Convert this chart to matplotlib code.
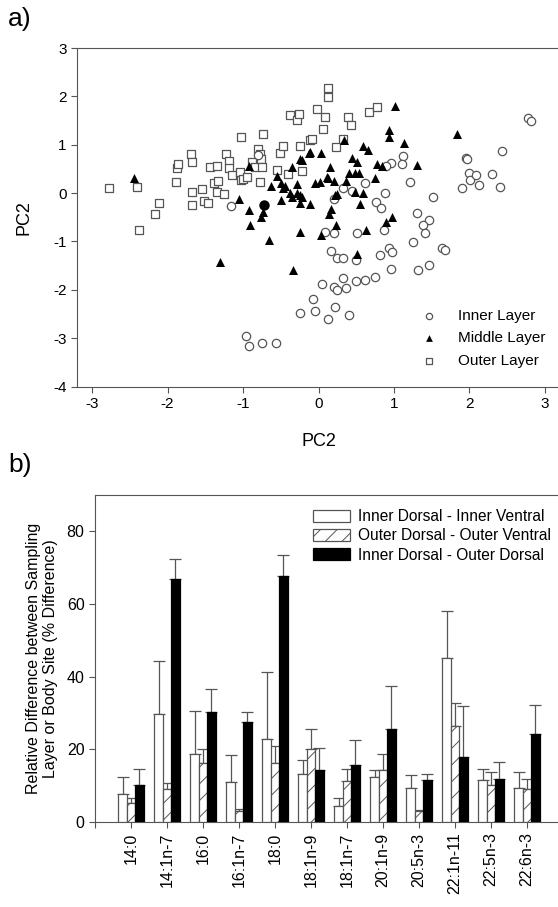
import numpy as np
import matplotlib
matplotlib.use('Agg')
import matplotlib.pyplot as plt

plt.rcParams['font.family'] = ['Liberation Sans', 'DejaVu Sans']
plt.rcParams['axes.unicode_minus'] = False
plt.rcParams['hatch.linewidth'] = 0.7
plt.rcParams['hatch.color'] = '#444444'

# --- panel a) PCA scores ---
inner_x = [-1.16, -0.80, -0.25, -0.07, -0.96, -0.92, -0.75, -0.56,
           2.77, 2.82, 2.43, 1.96, 1.97, 1.99, 2.01, 2.09, 2.13, 1.90, 2.30, 2.41,
           1.12, 1.10, 0.96, 0.89, 1.21, 1.52, 0.62, 0.33, 0.44, 0.88, 0.76, 0.83, 0.20, 1.30, 1.47,
           1.39, 1.41, 1.25, 1.63, 1.68, 0.87, 0.09, 0.20, 0.51, 0.17, 0.25, 0.33, 0.50,
           0.82, 0.93, 0.97, 0.96, 1.32, 1.46, 0.04, 0.20, 0.25, 0.37, 0.33, 0.50, 0.61, 0.75,
           -0.04, 0.12, 0.22, 0.41]
inner_y = [-0.27, 0.79, -2.48, -2.19, -2.96, -3.16, -3.11, -3.11,
           1.55, 1.50, 0.88, 0.73, 0.70, 0.42, 0.28, 0.37, 0.17, 0.10, 0.39, 0.12,
           0.77, 0.60, 0.63, 0.56, 0.22, -0.09, 0.20, 0.10, 0.05, 0.01, -0.18, -0.30, -0.12, -0.41, -0.56,
           -0.66, -0.82, -1.01, -1.14, -1.18, -0.77, -0.80, -0.83, -0.83, -1.20, -1.35, -1.35, -1.39,
           -1.28, -1.14, -1.21, -1.58, -1.59, -1.49, -1.88, -1.95, -2.01, -1.97, -1.76, -1.82, -1.80, -1.73,
           -2.44, -2.61, -2.35, -2.52]

middle_x = [-2.44, -1.05, -0.92, -0.92, -0.76, -0.74, -0.63, -0.55, -0.50, -0.47, -0.45, -0.38,
            -0.35, -0.29, -0.28, -0.24, -0.24, -0.50, -0.35, -0.24, -0.11, -0.91, -0.65, -1.31,
            -0.34, -0.24, 1.01, 0.93, 0.94, 1.13, 1.84, 0.34, -0.12, 0.03, 0.59, 0.66, 0.44, 0.51,
            0.15, 0.77, 0.84, 1.30, -0.22, 0.41, 0.48, 0.54, 0.12, 0.20, -0.05, 0.02, 0.36, 0.75,
            0.48, 0.59, 0.24, -0.22, -0.11, 0.55, 0.16, 0.14, 0.97, 0.23, 0.03, 0.63, 0.51, 0.89,
            0.22, 0.11]
middle_y = [0.32, -0.12, 0.56, -0.34, -0.49, -0.39, 0.14, 0.35, 0.20, 0.11, 0.15, 0.01,
            -0.08, 0.18, 0.01, -0.04, -0.21, -0.14, 0.54, 0.70, 0.85, -0.66, -0.97, -1.42,
            -1.59, -0.80, 1.81, 1.30, 1.16, 1.04, 1.23, 1.10, 0.83, 0.83, 0.97, 0.89, 0.73, 0.65,
            0.54, 0.61, 0.56, 0.58, 0.68, 0.41, 0.42, 0.41, 0.32, 0.25, 0.20, 0.23, 0.25, 0.32,
            0.03, 0.01, -0.02, -0.08, -0.23, -0.23, -0.33, -0.44, -0.49, -0.67, -0.87, -0.77, -1.26, -0.59,
            -0.04, 0.34]

outer_x = [-2.78, -2.41, -2.11, -2.17, -2.38, -1.89, -1.88, -1.86, -1.69, -1.67, -1.68, -1.55,
           -1.67, -1.52, -1.47, -1.44, -1.35, -1.38, -1.33, -1.35, -1.25, -1.23, -1.19, -1.18,
           -1.14, -1.03, -1.04, -1.03, -1.00, -0.95, -0.88, -0.84, -0.80, -0.78, -0.76, -0.75,
           -0.73, -0.77, -0.55, -0.51, -0.47, -0.40, -0.38, -0.28, -0.26, -0.25, -0.22, -0.11,
           0.13, 0.12, -0.02, 0.08, 0.06, -0.08, 0.39, 0.43, 0.67, 0.77, 0.23, 0.33]
outer_y = [0.10, 0.13, -0.20, -0.44, -0.77, 0.22, 0.51, 0.61, 0.80, 0.65, 0.03, 0.08,
           -0.25, -0.17, -0.21, 0.54, 0.57, 0.20, 0.25, 0.03, -0.02, 0.80, 0.66, 0.51,
           0.37, 1.16, 0.44, 0.27, 0.29, 0.34, 0.65, 0.54, 0.92, 0.80, 0.70, 0.54,
           1.23, 0.22, 0.48, 0.82, 0.98, 0.39, 1.61, 1.51, 1.63, 0.97, 0.46, 1.10,
           2.18, 1.99, 1.73, 1.57, 1.33, 1.12, 1.57, 1.41, 1.67, 1.77, 0.95, 1.12]

# jeden pelny punkt (czarne kolko)
odd_x = [-0.72]
odd_y = [-0.25]

# --- panel b) fatty acid differences ---
kwasy = ['14:0', '14:1n-7', '16:0', '16:1n-7', '18:0', '18:1n-9', '18:1n-7',
         '20:1n-9', '20:5n-3', '22:1n-11', '22:5n-3', '22:6n-3']
in_in = [7.6, 29.7, 18.8, 11.0, 22.8, 13.1, 4.5, 12.3, 9.3, 45.2, 11.6, 9.3]
in_in_top = [12.5, 44.2, 30.6, 18.5, 41.3, 17.1, 6.5, 14.3, 12.8, 58.2, 14.5, 13.7]
out_out = [5.3, 9.0, 16.2, 3.0, 16.2, 20.0, 11.3, 14.3, 3.0, 26.3, 10.2, 9.0]
out_out_top = [6.5, 10.8, 20.0, 3.5, 20.8, 25.6, 14.6, 18.8, 3.4, 32.7, 13.7, 11.7]
in_out = [10.2, 67.0, 30.3, 27.4, 67.6, 14.3, 15.7, 25.6, 11.6, 18.0, 11.9, 24.3]
in_out_top = [14.6, 72.5, 36.7, 30.4, 73.4, 20.3, 22.6, 37.5, 13.3, 31.8, 16.4, 32.1]

W, H = 558, 907
fig = plt.figure(figsize=(W / 100, H / 100), dpi=100)
edge = '#555555'

# panel a
ax1 = fig.add_axes([77 / W, 1 - 386.5 / H, (560 - 77) / W, (386.5 - 48) / H])
ax1.scatter(inner_x, inner_y, s=36, marker='o', facecolors='white', edgecolors=edge,
            linewidths=0.9, label='Inner Layer', zorder=3)
ax1.scatter(middle_x, middle_y, s=42, marker='^', color='black', linewidths=0,
            label='Middle Layer', zorder=4)
ax1.scatter(outer_x, outer_y, s=36, marker='s', facecolors='white', edgecolors=edge,
            linewidths=0.9, label='Outer Layer', zorder=2)
ax1.scatter(odd_x, odd_y, s=42, marker='o', color='black', zorder=4)
ax1.set_xlim(-3.2, 3.2)
ax1.set_ylim(-4, 3)
ax1.set_xticks(range(-3, 4))
ax1.set_yticks(range(-4, 4))
ax1.set_xlabel('PC2', fontsize=13, labelpad=16)
ax1.set_ylabel('PC2', fontsize=13, labelpad=15)
ax1.spines['right'].set_visible(False)
for s in ax1.spines.values():
    s.set_color(edge)
ax1.tick_params(direction='out', length=4, color=edge, labelsize=11)
ax1.legend(loc='lower right', frameon=False, fontsize=11, markerscale=0.75,
           handletextpad=0.9, labelspacing=0.55, bbox_to_anchor=(0.998, 0.015))
fig.text(8 / W, 1 - 19 / H, 'a)', fontsize=19, va='center', ha='left')

# panel b
ax2 = fig.add_axes([95 / W, 1 - 822 / H, (560 - 95) / W, (822 - 495) / H])
pos = np.arange(1, len(kwasy) + 1)
bw = 0.235
ax2.bar(pos - bw, in_in, bw, color='white', edgecolor=edge, linewidth=0.9, zorder=3,
        label='Inner Dorsal - Inner Ventral')
ax2.bar(pos, out_out, bw, color='white', edgecolor=edge, linewidth=0.9, hatch='//', zorder=3,
        label='Outer Dorsal - Outer Ventral')
ax2.bar(pos + bw, in_out, bw, color='black', edgecolor='black', linewidth=0.9, zorder=3,
        label='Inner Dorsal - Outer Dorsal')
for off, v, top in [(-bw, in_in, in_in_top), (0, out_out, out_out_top), (bw, in_out, in_out_top)]:
    v = np.array(v)
    up = np.array(top) - v
    ax2.errorbar(pos + off, v, yerr=[np.zeros_like(v), up], fmt='none', ecolor=edge,
                 elinewidth=0.9, capsize=4, capthick=0.9, zorder=2)
ax2.set_xlim(0, (560 - 95) / 36)
ax2.set_ylim(0, 90)
ax2.set_yticks([0, 20, 40, 60, 80])
ax2.set_xticks(np.arange(0, len(kwasy) + 1))
ax2.set_xticklabels([''] + kwasy, rotation=90)
ax2.set_ylabel('Relative Difference between Sampling\nLayer or Body Site (% Difference)',
               fontsize=11.5, labelpad=6)
ax2.spines['right'].set_visible(False)
for s in ax2.spines.values():
    s.set_color(edge)
ax2.tick_params(direction='out', length=4, color=edge, labelsize=11.5)
ax2.legend(loc='upper right', frameon=False, fontsize=11.2, handlelength=2.4, handleheight=0.8,
           handletextpad=0.5, labelspacing=0.28, bbox_to_anchor=(1.01, 1.0))
fig.text(8 / W, 1 - 465 / H, 'b)', fontsize=19, va='center', ha='left')

fig.savefig('out.png', dpi=100)
